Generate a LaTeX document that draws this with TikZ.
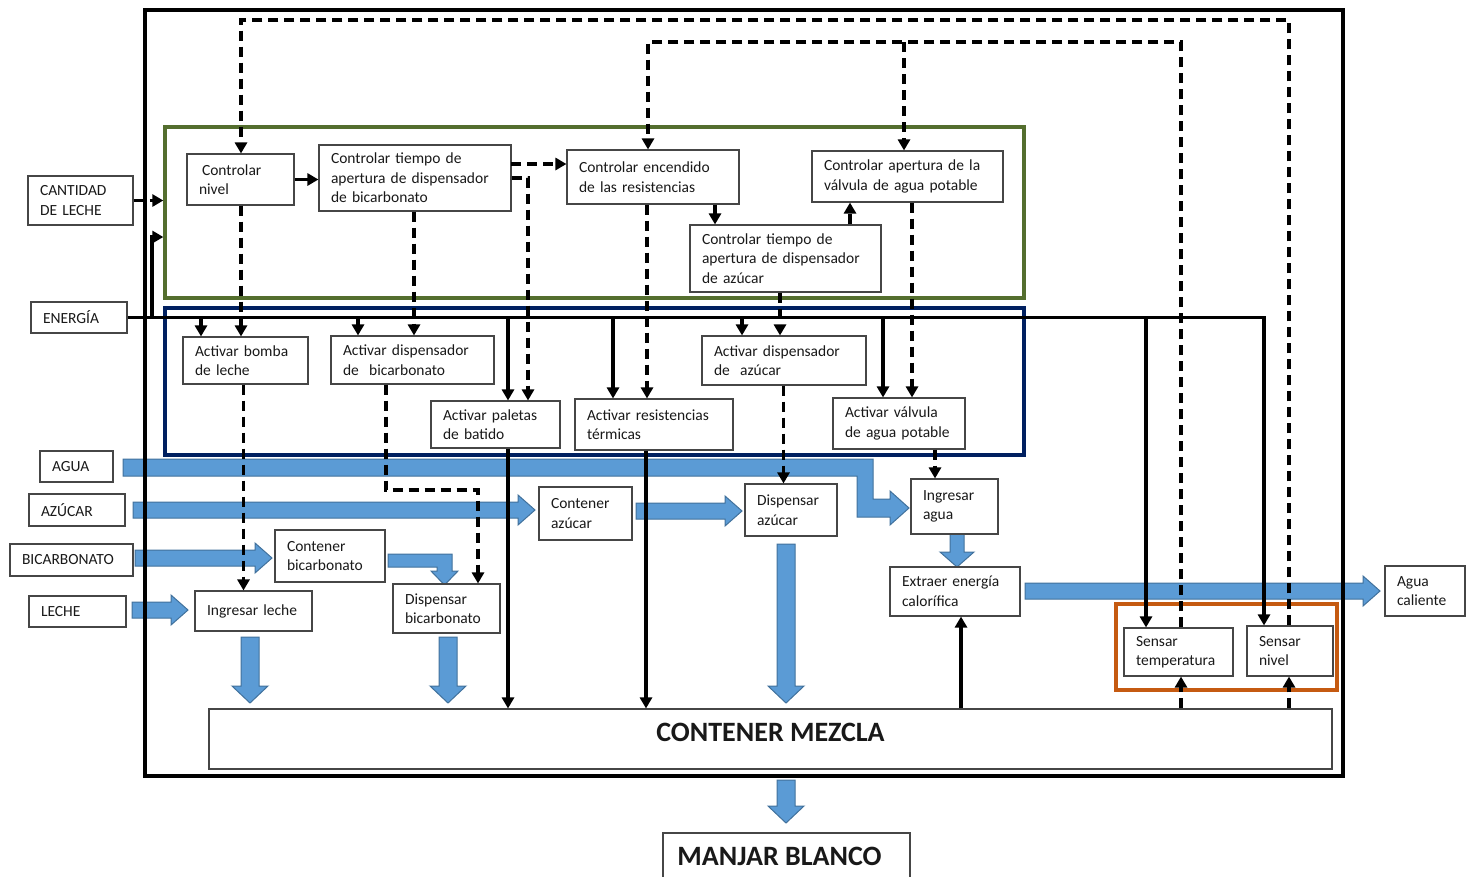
\documentclass[tikz,border=0pt]{standalone}
\usepackage{fontspec}
\setmainfont{Carlito}
\usetikzlibrary{arrows.meta}
\definecolor{gr}{RGB}{84,110,46}
\definecolor{nv}{RGB}{0,32,96}
\definecolor{orn}{RGB}{197,90,17}
\definecolor{bl}{RGB}{91,155,213}
\definecolor{bld}{RGB}{65,113,156}
\definecolor{bc}{RGB}{70,70,70}
\definecolor{tc}{RGB}{25,25,25}
\newcommand{\Bx}[6]{%
  \pgfmathsetmacro\bxw{#4-#2}\pgfmathsetmacro\bxh{#5-#3}%
  \pgfmathsetmacro\bxtw{#4-#2-24}%
  \node[box, minimum width=\bxw pt, minimum height=\bxh pt, text width=\bxtw pt] (#1) at ({(#2+#4)/2},{(#3+#5)/2}) {#6};}
\newcommand{\RArr}[3]{\filldraw[blk] (#1,#3-8) -- (#2-17,#3-8) -- (#2-17,#3-15) -- (#2,#3) -- (#2-17,#3+15) -- (#2-17,#3+8) -- (#1,#3+8) -- cycle;}
\newcommand{\DArr}[3]{\filldraw[blk] (#1-9,#2) -- (#1-9,#3-17) -- (#1-18,#3-17) -- (#1,#3) -- (#1+18,#3-17) -- (#1+9,#3-17) -- (#1+9,#2) -- cycle;}
\begin{document}
\begin{tikzpicture}[x=1pt,y=-1pt,
  box/.style={draw=bc,line width=1.1pt,fill=white,align=left,inner xsep=12pt,inner ysep=2pt,font=\fontsize{15.5}{19.5}\selectfont,text=tc},
  cont/.style={line width=3.3pt,inner sep=0pt},
  pow/.style={line width=3.8pt,-{Triangle[length=11pt,width=12pt]}},
  sig/.style={line width=3.6pt,dash pattern=on 10pt off 6pt,-{Triangle[length=11pt,width=12pt]}},
  blk/.style={fill=bl,draw=bld,line width=1pt,line join=miter}]
\useasboundingbox (0,0) rectangle (1472,876);

% ---------- block arrows (material flow)
\filldraw[blk] (123,459) -- (873,459) -- (873,499) -- (890,499) -- (890,491) -- (909,508) -- (890,525) -- (890,517) -- (857,517) -- (857,476) -- (123,476) -- cycle;
\RArr{133}{535}{510}
\RArr{636}{742}{511}
\RArr{135}{272}{558}
\RArr{132}{188}{610}
\RArr{1025}{1380}{591}
\filldraw[blk] (388,554) -- (452,554) -- (452,571) -- (458,571) -- (444.5,585) -- (431,571) -- (437,571) -- (437,567) -- (388,567) -- cycle;
\filldraw[blk] (950,534) -- (950,552) -- (940,552) -- (957,567) -- (974,552) -- (964,552) -- (964,534) -- cycle;
\DArr{250}{637}{703}
\DArr{448}{637}{703}
\DArr{786}{544}{703}
\DArr{786}{780}{823}

% ---------- containers
\node[cont,draw=black,minimum width=1198pt,minimum height=766pt] (outer) at (744,393) {};
\node[cont,draw=gr,minimum width=859pt,minimum height=171pt] (green) at (594.5,212.5) {};
\node[cont,draw=nv,minimum width=859pt,minimum height=147pt] (blue) at (594.5,381.5) {};
\node[cont,draw=orn,minimum width=221pt,minimum height=86pt] (orange) at (1226.5,647) {};

% ---------- nodes
\Bx{cant}{28}{176}{133}{225}{CANTIDAD\\DE LECHE}
\Bx{ener}{31}{302}{127}{333}{ENERGÍA}
\Bx{agua}{40}{451}{113}{482}{AGUA}
\Bx{azu}{29}{494}{125}{526}{AZÚCAR}
\Bx{bic}{10}{544}{133}{576}{BICARBONATO}
\Bx{lec}{29}{596}{126}{627}{LECHE}
\Bx{cal}{1385}{566}{1465}{616}{Agua\\caliente}
\Bx{cn}{187}{154}{294}{205}{\hspace{3pt}Controlar\\nivel}
\Bx{ctb}{319}{145}{511}{211}{Controlar tiempo de\\apertura de dispensador\\de bicarbonato}
\Bx{ce}{567}{150}{739}{204}{Controlar encendido\\de las resistencias}
\Bx{cv}{812}{151}{1003}{202}{Controlar apertura de la\\válvula de agua potable}
\Bx{cta}{690}{225}{881}{292}{Controlar tiempo de\\apertura de dispensador\\de azúcar}
\Bx{ab}{183}{337}{308}{384}{Activar bomba\\de leche}
\Bx{adb}{331}{336}{494}{384}{Activar dispensador\\de~~bicarbonato}
\Bx{ap}{431}{401}{560}{448}{Activar paletas\\de batido}
\Bx{ar}{575}{399}{733}{450}{Activar resistencias\\térmicas}
\Bx{ada}{702}{336}{866}{385}{Activar dispensador\\de~~azúcar}
\Bx{av}{833}{398}{965}{449}{Activar válvula\\de agua potable}
\Bx{ca}{539}{487}{632}{540}{Contener\\azúcar}
\Bx{da}{745}{484}{837}{536}{Dispensar\\azúcar}
\Bx{ia}{911}{479}{998}{534}{Ingresar\\agua}
\Bx{cb}{275}{530}{385}{582}{Contener\\bicarbonato}
\Bx{il}{195}{591}{312}{631}{Ingresar leche}
\Bx{db}{393}{584}{500}{633}{Dispensar\\bicarbonato}
\Bx{ee}{890}{567}{1020}{616}{Extraer energía\\calorífica}
\Bx{st}{1124}{628}{1233}{676}{Sensar\\temperatura}
\Bx{sn}{1247}{626}{1333}{676}{Sensar\\nivel}
\node[box,align=center,inner sep=0pt,minimum width=1123pt,minimum height=60pt,font=\bfseries\fontsize{28}{32}\selectfont] (cm) at (770.5,739) {\raisebox{13pt}{CONTENER MEZCLA}};
\node[box,align=center,inner sep=0pt,minimum width=247pt,minimum height=47pt,font=\bfseries\fontsize{28}{32}\selectfont] (mb) at (786.5,856.5) {\hspace{-14pt}MANJAR BLANCO};

% ---------- named coordinates
\foreach \n/\x in {b0/152,b1/201,b2/358,b3/508,b4/613,b5/742,b6/883,b7/1146,b8/1264}
  \coordinate (\n) at (\x,318);
\foreach \n/\x in {vcn/241,vab/243.5,vctb/414,vadb/386,vdb/478,vap/528,vce1/647,vce2/715,vcta1/850,vcta2/780,vcv/912,vada/783.5,vav/935,vres/646,vee/961,vst/1181,vsn/1289}
  \coordinate (\n) at (\x,0);
\coordinate (w1) at (241,20);
\coordinate (w2) at (648,42);
\coordinate (w3) at (904,42);
\coordinate (q1) at (511,164);
\coordinate (q2) at (0,237);
\coordinate (q3) at (0,490);

% ---------- energy (solid)
\draw[pow] (ener.east) -| (b8 |- sn.north);
\draw[pow] (b0) |- (green.west |- q2);
\draw[pow] (b1) -- (b1 |- ab.north);
\draw[pow] (b2) -- (b2 |- adb.north);
\draw[pow] (b3) -- (b3 |- ap.north);
\draw[pow] (b4) -- (b4 |- ar.north);
\draw[pow] (b5) -- (b5 |- ada.north);
\draw[pow] (b6) -- (b6 |- av.north);
\draw[pow] (b7) -- (b7 |- st.north);
\draw[pow] (cn.east) -- (ctb.west |- cn.east);
\draw[pow] (b3 |- ap.south) -- (b3 |- cm.north);
\draw[pow] (vres |- ar.south) -- (vres |- cm.north);
\draw[pow] (vee |- cm.north) -- (vee |- ee.south);

% ---------- signals (dashed)
\draw[sig] (cant.east) -- (cant.east -| green.west);
\draw[sig] (vsn |- sn.north) |- (w1) -- (w1 |- cn.north);
\draw[sig] (vst |- st.north) |- (w2) -- (w2 |- ce.north);
\draw[sig] (w3) -- (w3 |- cv.north);
\draw[sig] (vsn |- cm.north) -- (vsn |- sn.south);
\draw[sig] (vst |- cm.north) -- (vst |- st.south);
\draw[sig] (vcn |- cn.south) -- (vcn |- ab.north);
\draw[sig] (vab |- ab.south) -- (vab |- il.north);
\draw[sig] (vctb |- ctb.south) -- (vctb |- adb.north);
\draw[sig] (q1) -- (q1 -| ce.west);
\draw[sig] (ctb.east) -| (vap |- ap.north);
\draw[sig] (vadb |- adb.south) -- (vadb |- q3) -| (vdb |- db.north);
\draw[sig] (vce1 |- ce.south) -- (vce1 |- ar.north);
\draw[sig] (vce2 |- ce.south) -- (vce2 |- cta.north);
\draw[sig] (vcta1 |- cta.north) -- (vcta1 |- cv.south);
\draw[sig] (vcta2 |- cta.south) -- (vcta2 |- ada.north);
\draw[sig] (vcv |- cv.south) -- (vcv |- av.north);
\draw[sig] (vada |- ada.south) -- (vada |- da.north);
\draw[sig] (vav |- av.south) -- (vav |- ia.north);
\end{tikzpicture}
\end{document}
